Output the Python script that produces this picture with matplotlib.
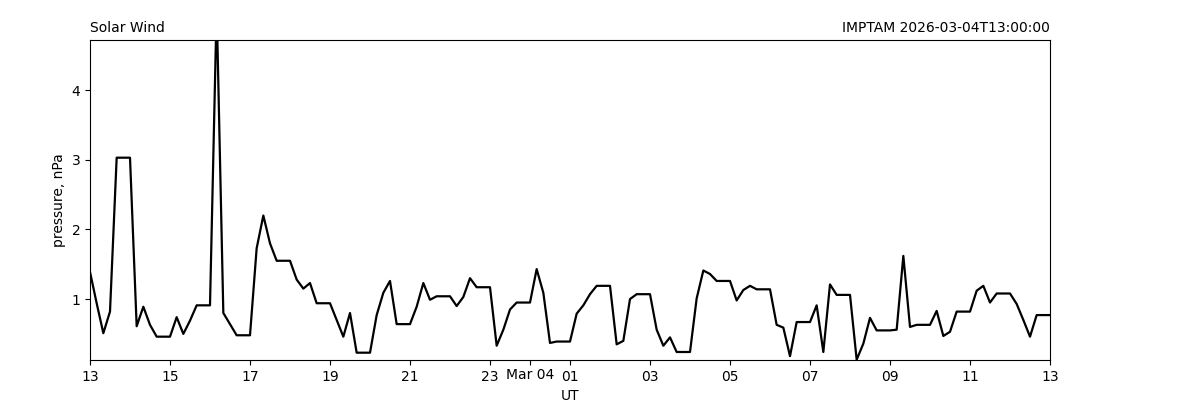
import matplotlib
matplotlib.use('Agg')
import matplotlib.pyplot as plt
import matplotlib.dates as mdates
import numpy as np
import pandas as pd

# Data -------------------------------------------------------------------

start_time = '2026-03-03 13:00'
end_time = '2026-03-04 13:00'
step = '10min'

# solar wind dynamic pressure, nPa (10 min samples)
pressure = [
    1.39, 0.94, 0.51, 0.82, 3.03, 3.03, 3.03, 0.61, 0.89, 0.63, 0.46, 0.46,
    0.46, 0.74, 0.50, 0.69, 0.91, 0.91, 0.91, 5.20, 0.80, 0.64, 0.48, 0.48,
    0.48, 1.73, 2.20, 1.80, 1.55, 1.55, 1.55, 1.28, 1.15, 1.23, 0.94, 0.94,
    0.94, 0.70, 0.46, 0.80, 0.23, 0.23, 0.23, 0.77, 1.09, 1.26, 0.64, 0.64,
    0.64, 0.89, 1.23, 0.99, 1.04, 1.04, 1.04, 0.90, 1.03, 1.30, 1.17, 1.17,
    1.17, 0.33, 0.56, 0.85, 0.95, 0.95, 0.95, 1.43, 1.09, 0.37, 0.39, 0.39,
    0.39, 0.79, 0.91, 1.07, 1.19, 1.19, 1.19, 0.35, 0.40, 1.00, 1.07, 1.07,
    1.07, 0.56, 0.33, 0.45, 0.24, 0.24, 0.24, 1.01, 1.41, 1.36, 1.26, 1.26,
    1.26, 0.98, 1.13, 1.19, 1.14, 1.14, 1.14, 0.63, 0.59, 0.18, 0.67, 0.67,
    0.67, 0.91, 0.24, 1.21, 1.06, 1.06, 1.06, 0.13, 0.36, 0.73, 0.55, 0.55,
    0.55, 0.56, 1.62, 0.60, 0.63, 0.63, 0.63, 0.83, 0.47, 0.53, 0.82, 0.82,
    0.82, 1.12, 1.19, 0.95, 1.08, 1.08, 1.08, 0.93, 0.70, 0.46, 0.77, 0.77,
    0.77,
]

#-------------------------------------------------------------------------


# Format ticks: hour, but date at midnight
def hour_fmt(x, pos=None):
    d = mdates.num2date(x)
    if d.hour == 0:
        return d.strftime('%b %d')
    return d.strftime('%H')


# Plot -------------------------------------------------------------------

times = pd.date_range(start_time, end_time, freq=step)

fig = plt.figure(figsize=(12, 4), dpi=100)
ax = fig.add_axes([0.075, 0.1, 0.8, 0.8])

ax.plot(times, pressure, color='black', linewidth=1.6)

ax.set_xlim(pd.Timestamp(start_time), pd.Timestamp(end_time))
ax.set_ylim(0.125, 4.72)
ax.set_yticks([1, 2, 3, 4])
ax.xaxis.set_major_locator(mdates.HourLocator(byhour=range(1, 24, 2)))
ax.xaxis.set_major_formatter(plt.FuncFormatter(hour_fmt))
ax.set_xticks(list(ax.get_xticks()) + [mdates.date2num(pd.Timestamp('2026-03-04 00:00'))])

ax.set_xlabel('UT')
ax.set_ylabel('pressure, nPa')
ax.set_title('Solar Wind', loc='left', fontsize=10)
ax.set_title('IMPTAM 2026-03-04T13:00:00', loc='right', fontsize=10)

# date label sits a little higher than the hour labels
fig.canvas.draw()
for tick in ax.xaxis.get_major_ticks():
    if tick.label1.get_text().startswith('Mar'):
        tick.label1.set_y(0.006)

plt.savefig('out.png', dpi=100)
